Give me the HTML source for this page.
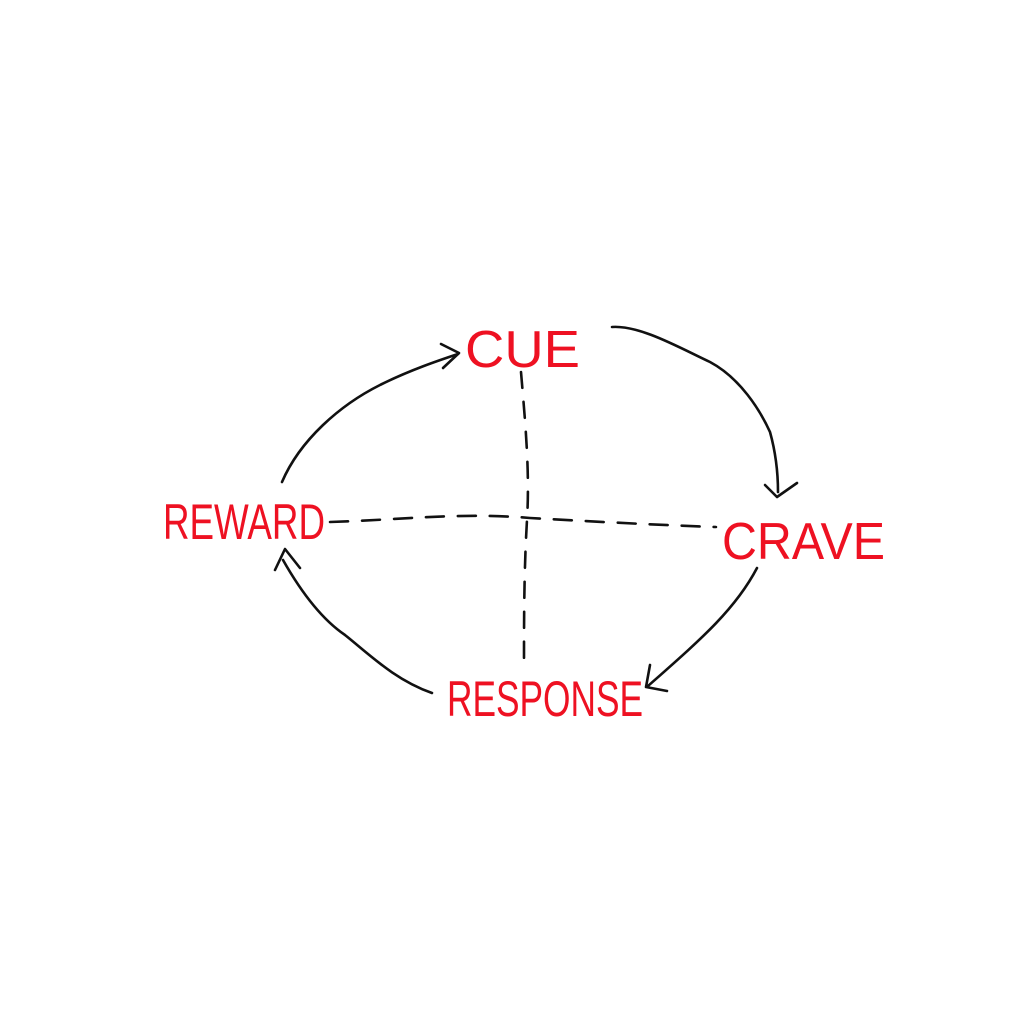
<!DOCTYPE html>
<html><head><style>html,body{margin:0;padding:0;background:#fff;}svg{display:block}</style></head>
<body>
<svg width="1024" height="1024" viewBox="0 0 1024 1024" xmlns="http://www.w3.org/2000/svg">
<g fill="none" stroke="#111" stroke-width="2.6" stroke-linecap="round" stroke-linejoin="round">
<!-- REWARD -> CUE -->
<path d="M282 482 C300 440 340 405 380 385 C410 370 440 360 458 354"/>
<path d="M441 344 L459 353 L443 368"/>
<!-- CUE -> CRAVE -->
<path d="M612 327 C640 325 680 348 710 362 C740 378 760 410 770 432 C775 450 778 470 778 492"/>
<path d="M765 485 L777 497 L797 483"/>
<!-- CRAVE -> RESPONSE -->
<path d="M757 568 C735 610 700 640 648 686"/>
<path d="M650 665 L646 687 L667 691"/>
<!-- RESPONSE -> REWARD -->
<path d="M432 693 C395 680 370 655 345 635 C320 618 300 590 283 560"/>
<path d="M275 570 L285 549 L300 568"/>
<!-- dashed cross -->
<path d="M521 372 C525 420 530 470 527 520 C524 570 524 620 524 665" stroke-dasharray="16 14"/>
<path d="M330 522 C400 520 460 512 530 518 C600 522 660 525 716 527" stroke-dasharray="18 14"/>
</g>
<g fill="#ee1122" font-family="Liberation Sans, sans-serif" font-weight="normal">
<text x="465" y="367" font-size="52" textLength="115" lengthAdjust="spacingAndGlyphs">CUE</text>
<text x="722" y="559" font-size="52" textLength="163" lengthAdjust="spacingAndGlyphs">CRAVE</text>
<text x="163" y="539" font-size="50" textLength="162" lengthAdjust="spacingAndGlyphs">REWARD</text>
<text x="447" y="716" font-size="50" textLength="196" lengthAdjust="spacingAndGlyphs">RESPONSE</text>
</g>
</svg>
</body></html>
